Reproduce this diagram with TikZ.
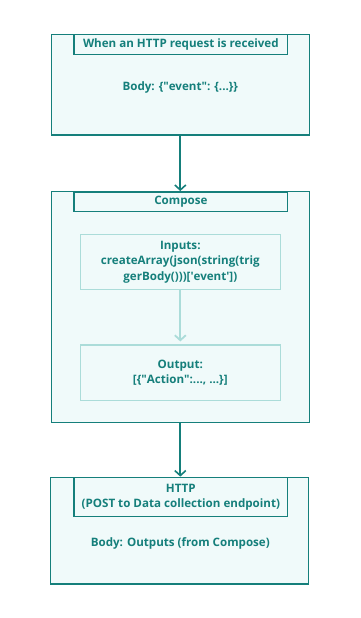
\documentclass[tikz,border=0pt]{standalone}
\usepackage{fontspec}
\setmainfont{Open Sans}
\usetikzlibrary{arrows.meta}
\definecolor{teal1}{HTML}{157F7B}
\definecolor{fillc}{HTML}{F0FAFA}
\definecolor{lightc}{HTML}{ABDCD9}
\newcommand{\dq}{\textquotedbl}
\newcommand{\sq}{\textquotesingle}
\begin{document}
\begin{tikzpicture}[x=1pt,y=-1pt,
  outerbox/.style={draw=teal1,fill=fillc,line width=1.3pt},
  titlebox/.style={draw=teal1,line width=1.1pt},
  innerbox/.style={draw=lightc,line width=1.1pt},
  lbl/.style={text=teal1,font=\fontsize{11.6}{15.5}\selectfont\bfseries,align=center,inner sep=0pt},
  mainarrow/.style={draw=teal1,line width=2pt,-{Straight Barb[length=5pt,width=11pt,line width=1.6pt]}},
  lightarrow/.style={draw=lightc,line width=2.2pt,-{Straight Barb[length=5pt,width=11pt,line width=1.8pt]}}]
\useasboundingbox (0,0) rectangle (361,618);
% box 1
\node[outerbox,minimum width=258pt,minimum height=100.7pt,inner sep=0pt] (b1) at (180.3,84.65) {};
\node[titlebox,minimum width=213.7pt,minimum height=20pt,inner sep=0pt,anchor=north] (t1) at (180.85,34.3) {};
\node[lbl] (t1l) at (t1.center) {When an HTTP request is received};
\node[lbl] (b1l) at (180.3,87) {Body: \{\dq event\dq: \{...\}\}};
% box 2
\node[outerbox,minimum width=258pt,minimum height=230.6pt,inner sep=0pt] (b2) at (180.3,307) {};
\node[titlebox,minimum width=213.7pt,minimum height=19.6pt,inner sep=0pt,anchor=north] (t2) at (180.85,191.7) {};
\node[lbl] (t2l) at (t2.center) {Compose};
\node[innerbox,minimum width=200pt,minimum height=55pt,inner sep=0pt] (in) at (180.3,261.8) {};
\node[lbl] (inl) at (in.center) {Inputs:\\createArray(json(string(trig\\gerBody()))[\sq event\sq])};
\node[innerbox,minimum width=200pt,minimum height=55.3pt,inner sep=0pt] (out) at (180.3,372.65) {};
\node[lbl] (outl) at (out.center) {Output:\\{}[\{\dq Action\dq:..., ...\}]};
% box 3
\node[outerbox,minimum width=258pt,minimum height=106.7pt,inner sep=0pt] (b3) at (179.7,530.65) {};
\node[titlebox,minimum width=213.7pt,minimum height=38.7pt,inner sep=0pt,anchor=north] (t3) at (180.85,477.3) {};
\node[lbl] (t3l) at (t3.center) {HTTP\\(POST to Data collection endpoint)};
\node[lbl] (b3l) at (180.3,543) {Body: Outputs (from Compose)};
% arrows
\draw[mainarrow] (b1.south) -- (b2.north);
\draw[lightarrow] (in.south) -- ([yshift=3pt]out.north);
\draw[mainarrow] (b2.south) -- (b3.north -| b2.south);
\end{tikzpicture}
\end{document}
